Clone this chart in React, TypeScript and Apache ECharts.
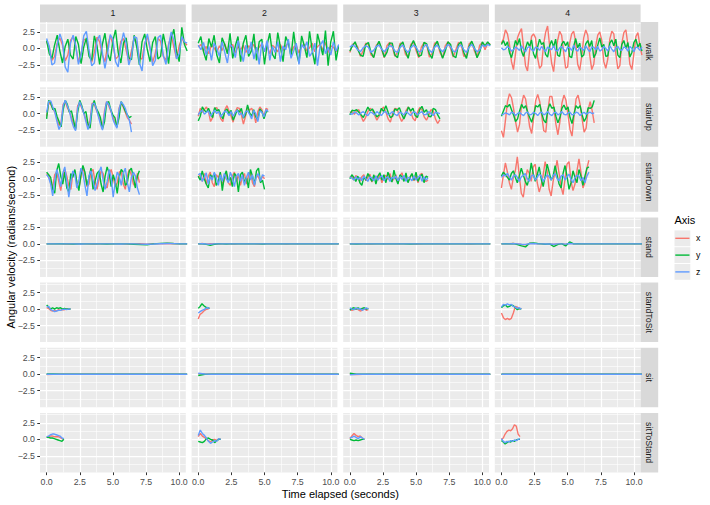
import React, { useEffect, useRef } from "react";
import * as echarts from "echarts";

// ---------- facets, axes, ticks ----------
const FACET_COLS = ["1", "2", "3", "4"];
const FACET_ROWS = ["walk", "stairUp", "stairDown", "stand", "standToSit", "sit", "sitToStand"];
const AXIS_NAMES = ["x", "y", "z"];
const AXIS_COLORS = ["#F8766D", "#00BA38", "#619CFF"];
const X_MAJOR = [0, 2.5, 5, 7.5, 10];
const X_MINOR = [1.25, 3.75, 6.25, 8.75];
const Y_MAJOR = [-2.5, 0, 2.5];
const Y_MINOR = [-3.75, -1.25, 1.25, 3.75];
const X_RANGE = [-0.5, 10.5];
const Y_RANGE = [-5, 4];

// ---------- data (seconds span, then x / y / z angular velocity samples) ----------
// walk
const walk1End = 10.6;
const walk1X = [1.0, 0.2, -1.8, -1.2, 0.8, 1.6, 0.5, -1.9, -1.0, 1.2, 1.8, 0.2, -2.0, -0.8, 1.4, 1.2, -0.5, -2.1, -0.6, 1.7, 1.0, -1.0, -2.0, 0.4, 1.9, 0.6, -1.6, -1.2, 1.1, 1.5, -0.3, -2.0, -0.4, 1.6, 0.9, -1.4, -1.6, 0.8, 1.8, 0.0, -2.1, -0.7, 1.5, 1.1, -1.2, -1.8, 0.6, 2.0, 0.2, -1.5, 0.4, 1.6, 0.8, 0.5];
const walk1Y = [1.2, -0.8, -1.5, 0.5, 2.0, -0.4, -2.2, 0.3, 1.4, -1.0, -1.6, 1.8, 0.6, -2.3, 0.2, 1.6, -1.2, -1.8, 1.9, 0.4, -2.4, 0.6, 2.3, -0.8, -1.9, 1.2, 2.8, -0.6, -2.2, 0.8, 1.6, -1.4, -1.7, 2.0, 0.2, -2.5, 1.0, 2.2, -0.2, -2.0, 0.9, 1.8, -1.6, -1.2, 2.2, 0.3, -2.3, 1.4, 2.9, -0.5, -2.0, 3.2, 0.6, -0.4];
const walk1Z = [1.5, 0.3, -2.5, -2.2, 0.6, 2.2, 1.0, -2.8, -3.6, 0.8, 2.0, 0.4, -2.4, -1.0, 1.9, 2.6, -0.3, -2.6, -2.2, 1.2, 2.0, -0.6, -3.0, -0.8, 2.1, 1.4, -2.0, -2.8, 0.5, 2.4, 0.8, -2.5, -1.2, 1.8, 1.6, -2.2, -3.4, 0.6, 2.2, 0.2, -2.6, -1.8, 1.6, 2.0, -1.0, -2.4, 0.4, 2.5, 1.2, -1.6, -0.8, 1.8, 1.0, 0.8];
const walk2End = 10.6;
const walk2X = [0.2, 0.6, -0.4, 0.3, -0.8, 0.5, 0.1, -0.6, 0.4, -0.3, 0.7, -0.5, 0.2, 0.6, -0.7, 0.3, -0.2, 0.5, -0.6, 0.4, 0.0, 0.6, -0.5, 0.2, 0.7, -0.4, 0.3, -0.8, 0.5, 0.1, -0.5, 0.6, -0.3, 0.4, 0.8, -0.6, 0.2, 0.5, -0.7, 0.3, 0.6, -0.4, 0.1, 0.8, -0.5, 0.3, 0.6, -0.2, 0.9, -0.6, 0.4, 0.2, -0.5, 0.3];
const walk2Y = [0.8, 1.8, -0.5, -1.8, 1.5, 0.2, 2.0, -1.0, -2.2, 1.6, 0.6, -0.8, 2.3, -1.5, 0.4, 1.8, -2.0, 0.8, 2.0, -1.2, -0.4, 2.2, -1.8, 1.0, 1.4, -2.4, 0.6, 2.3, -0.9, -1.6, 2.4, 0.2, -2.0, 1.8, 0.8, -1.2, 2.5, -0.6, -2.2, 1.9, 0.4, -1.4, 2.6, -0.3, -2.4, 2.2, 0.6, -1.0, 2.7, -2.6, 1.0, 2.6, -1.8, 0.5];
const walk2Z = [0.5, -0.2, 0.9, -1.0, 0.3, -1.8, 0.8, 0.0, -1.2, 1.0, -0.6, -2.2, 0.6, 0.2, -1.4, 1.2, -0.4, -2.0, 0.5, -0.8, 1.0, -1.6, 0.2, -2.4, 0.9, -0.5, 1.2, -1.8, 0.3, -0.6, 1.0, -2.0, 0.4, -0.2, 1.4, -1.5, -0.4, 0.8, -2.4, 0.6, 0.0, 1.0, -1.2, -0.6, 0.8, -2.6, 0.4, 1.2, -0.8, 0.2, -1.0, 1.0, -0.4, 0.6];
const walk3End = 10.6;
const walk3X = [-0.6, 0.6, 0.8, 0.2, -1.2, -0.4, 0.8, 0.6, -1.0, -1.3, 0.5, 0.9, -0.2, -1.4, 0.4, 0.9, 0.3, -1.2, -0.6, 0.8, 0.7, -0.9, -1.3, 0.6, 1.0, -0.3, -1.4, 0.2, 0.9, 0.5, -1.3, -0.8, 0.8, 0.9, -0.6, -1.4, 0.4, 1.0, 0.0, -1.3, -0.2, 0.9, 0.6, -1.2, -1.0, 0.7, 1.0, -0.4, -1.3, 0.5, 0.9, -0.2, 0.8, 0.6];
const walk3Y = [-0.4, 0.4, 1.0, -0.2, -1.0, -1.2, 0.6, 0.9, -0.6, -1.4, 0.2, 1.1, 0.0, -1.3, -0.6, 0.8, 0.8, -1.0, -1.4, 0.5, 1.0, -0.4, -1.5, 0.3, 1.2, 0.2, -1.2, -1.0, 0.9, 0.7, -0.8, -1.5, 0.4, 1.1, -0.2, -1.5, -0.4, 1.0, 0.6, -1.1, -1.4, 0.6, 1.0, -0.6, -1.5, 0.3, 1.1, 0.1, -1.4, -0.5, 1.0, 0.4, 1.0, 0.5];
const walk3Z = [0.2, 0.5, 0.3, -0.2, -0.5, 0.1, 0.4, 0.2, -0.6, -0.3, 0.3, 0.5, -0.1, -0.5, 0.0, 0.4, 0.3, -0.4, -0.6, 0.2, 0.5, -0.2, -0.6, 0.1, 0.5, 0.2, -0.5, -0.4, 0.3, 0.6, -0.3, -0.6, 0.2, 0.5, -0.1, -0.5, 0.0, 0.6, 0.3, -0.4, -0.5, 0.3, 0.5, -0.2, -0.6, 0.2, 0.6, 0.0, -0.5, -0.2, 0.5, 0.3, 0.6, 0.4];
const walk4End = 10.6;
const walk4X = [0.8, 1.4, 2.8, 2.2, 0.6, -2.0, -3.2, -0.8, 1.6, 2.4, 3.0, 0.2, -2.6, -3.4, -0.4, 1.8, 2.2, 1.6, -1.4, -3.0, -2.6, 0.6, 2.4, 3.4, 0.4, -2.2, -3.5, -0.6, 1.2, 2.6, 2.0, -0.6, -3.0, -2.8, 0.8, 2.2, 2.6, 1.0, -2.4, -3.3, -1.2, 1.6, 2.8, 2.0, -1.0, -3.2, -2.4, 0.4, 2.0, 2.5, 1.2, -2.0, -3.0, -1.6, 1.4, 2.6, 2.2, -0.8, -3.1, -2.6, 0.8, 2.4, 2.8, 0.6, -2.4, -3.2, -0.8, 1.8, 2.4, 0.4, -1.0];
const walk4Y = [0.6, 1.2, 0.4, 1.0, -0.6, -1.4, -0.2, 1.2, 0.5, 1.5, -0.4, -1.2, 0.0, 1.0, 0.3, 1.3, -0.8, -1.5, 0.2, 1.4, 0.6, 0.9, -0.9, -1.3, 0.4, 1.2, 0.2, 1.4, -1.0, -1.2, 0.6, 1.1, 0.4, 1.0, -1.2, -1.4, 0.3, 1.5, 0.1, 0.8, -1.3, -1.0, 0.7, 1.2, 0.3, 1.2, -1.4, -0.8, 0.5, 1.6, 0.2, 0.6, -1.2, -1.1, 0.8, 1.3, 0.4, 1.4, -1.0, -1.4, 0.6, 1.2, 0.0, 0.9, -1.3, -0.6, 0.9, 1.4, 0.2, 0.8, -0.4];
const walk4Z = [0.1, -0.2, -0.1, 0.3, 0.1, -0.4, -0.2, 0.2, 0.0, -0.3, 0.4, -0.1, -0.5, 0.1, 0.3, -0.2, -0.4, 0.2, 0.1, -0.3, 0.3, -0.1, -0.5, 0.2, 0.0, -0.2, 0.4, -0.3, -0.4, 0.1, 0.3, -0.1, -0.5, 0.2, 0.1, -0.3, 0.5, -0.2, -0.4, 0.2, 0.0, -0.3, 0.4, -0.1, -0.5, 0.2, 0.2, -0.2, 0.3, -0.4, -0.2, 0.3, 0.0, -0.4, 0.4, -0.1, -0.5, 0.1, 0.3, -0.2, -0.3, 0.2, 0.1, -0.4, 0.3, 0.0, -0.5, 0.2, 0.1, -0.3, 0.2];

// stairUp
const stairUp1End = 6.4;
const stairUp1X = [-0.4, 1.6, 1.4, 0.8, 0.2, -0.8, -1.8, -1.4, 1.4, 1.8, 0.9, 0.3, -0.6, -1.6, -2.2, 1.2, 1.6, 0.8, 0.1, -0.9, -2.0, -1.0, 1.6, 1.4, 0.6, -0.2, -1.2, -2.1, 0.4, 1.8, 1.2, 0.4, -0.4, -1.4, -2.0, 0.8, 1.6, 1.0, 0.2, -0.6, -1.0, -1.6];
const stairUp1Y = [-0.8, 2.0, 1.6, 0.6, 0.8, -0.4, -1.2, -2.0, 0.6, 2.0, 1.4, 0.2, 0.4, -1.0, -2.4, 0.2, 2.0, 1.2, 0.0, 0.3, -1.6, -2.2, 0.8, 2.0, 0.8, 0.2, -0.6, -2.3, -1.2, 1.6, 1.8, 0.6, -0.2, -0.6, -2.0, -0.6, 1.8, 1.2, 0.4, -0.2, -0.6, -0.4];
const stairUp1Z = [0.2, 1.8, 1.9, 1.0, 0.2, -1.2, -2.4, -1.6, 1.2, 2.0, 1.2, 0.4, -1.0, -2.0, -2.6, 0.8, 1.8, 1.0, 0.0, -1.2, -2.4, -1.4, 1.4, 1.6, 0.8, -0.4, -1.6, -2.5, 0.0, 1.8, 1.4, 0.6, -0.8, -1.6, -2.2, 0.6, 1.8, 1.4, 0.8, -0.2, -1.0, -2.8];
const stairUp2End = 5.27;
const stairUp2X = [-0.4, 0.8, 0.2, 0.6, 1.0, 0.3, -1.2, -0.6, 0.8, 0.9, 0.2, -0.8, -1.2, 0.6, 1.2, 0.4, -0.4, -1.3, 0.2, 0.9, 0.8, -0.2, -1.6, -0.4, 1.0, 0.5, 0.8, 0.2, -1.4, 0.3, 1.0, 0.6, -0.5, 0.8, 0.6];
const stairUp2Y = [-1.1, -0.4, 1.0, 0.5, 0.2, 0.8, 0.0, -0.6, 0.9, 0.4, 0.6, -0.2, -0.8, 0.4, 0.7, 0.0, 0.5, -1.0, -0.3, 0.6, 0.2, 0.8, -0.7, -0.2, 1.3, 0.1, -0.4, 0.6, -0.5, -0.9, 0.7, 0.3, -0.8, 0.2, 0.4];
const stairUp2Z = [-0.2, 0.3, 0.5, -0.1, 0.2, 0.4, -0.4, 0.1, 0.5, 0.0, 0.3, -0.5, 0.0, 0.4, 0.2, -0.3, 0.3, -0.4, 0.2, 0.5, -0.2, 0.1, -0.6, 0.3, 0.4, -0.1, -0.8, 0.5, 0.0, -1.2, 0.4, 0.2, -0.5, 0.6, 0.3];
const stairUp3End = 6.8;
const stairUp3X = [0.2, 0.3, -0.1, 0.4, 0.6, -0.4, -1.2, -0.6, 0.3, 0.8, 0.5, -0.2, -1.0, -0.4, 0.6, 1.0, 0.2, -0.8, -1.3, 0.0, 0.8, 0.7, -0.4, -1.2, -0.6, 0.5, 1.0, 0.3, -0.7, -1.1, 0.2, 0.9, 0.6, -0.5, -1.0, -0.3, 0.6, 0.4, -0.8, -1.5, -0.9];
const stairUp3Y = [-0.2, 0.5, 0.4, 0.6, 0.2, -0.2, -0.6, 0.2, 1.0, 0.4, 0.7, 0.1, -0.5, -0.2, 0.8, 0.3, 1.2, 0.2, -0.6, -0.4, 0.7, 0.5, 0.9, -0.1, -0.8, 0.0, 1.0, 0.4, 0.8, -0.3, -0.6, 0.6, 1.1, 0.2, 0.6, -0.4, -0.5, 0.8, 0.6, -0.2, -0.8];
const stairUp3Z = [0.0, -0.1, 0.2, 0.1, -0.2, 0.1, 0.3, -0.1, -0.3, 0.2, 0.1, -0.2, 0.3, 0.0, -0.3, 0.2, 0.3, -0.2, 0.0, 0.3, -0.1, -0.3, 0.2, 0.1, -0.2, 0.3, 0.0, -0.3, 0.2, 0.2, -0.2, 0.1, 0.3, -0.2, -0.1, 0.3, 0.0, -0.3, 0.2, 0.1, 0.0];
const stairUp4End = 7.0;
const stairUp4X = [-2.6, -3.6, -1.0, 1.8, 3.0, 2.4, 0.8, -1.2, -2.8, -1.6, 1.4, 2.8, 2.2, 0.2, -2.0, -3.0, -0.6, 2.0, 2.9, 1.8, -0.4, -2.6, -2.8, 0.4, 2.6, 2.6, 0.8, -1.6, -3.2, -1.2, 1.6, 2.8, 2.0, -0.2, -2.4, -3.4, -0.4, 2.2, 2.8, 1.4, -0.8, -2.8, -2.2, 0.6, 1.8, 0.4, -1.4];
const stairUp4Y = [-0.4, 0.4, 1.2, 1.0, 1.4, 0.6, -0.2, -1.2, -0.8, 0.4, 1.4, 0.8, 1.2, 0.2, -0.6, -1.3, -0.2, 1.2, 1.0, 1.4, 0.0, -1.0, -1.4, 0.6, 1.5, 0.8, 1.0, -0.4, -1.4, -0.6, 0.8, 1.3, 0.6, 1.0, -0.6, -1.5, 0.0, 1.2, 0.8, 1.2, -0.2, -1.2, -0.6, 0.9, 0.8, 1.0, 2.0];
const stairUp4Z = [-0.2, -0.1, 0.1, 0.0, -0.2, 0.2, 0.1, -0.3, 0.0, 0.2, -0.1, -0.3, 0.1, 0.2, -0.2, -0.1, 0.2, 0.0, -0.3, 0.1, 0.2, -0.2, 0.0, 0.3, -0.1, -0.3, 0.1, 0.2, -0.2, 0.0, 0.3, -0.1, -0.2, 0.1, 0.2, -0.2, -0.1, 0.2, 0.1, -0.3, 0.0, 0.2, -0.1, 0.1, 0.2, 0.0, 0.1];

// stairDown
const stairDown1End = 7.0;
const stairDown1X = [0.8, 0.4, -0.6, -1.2, 0.6, 1.0, -0.4, -1.8, 0.2, 1.4, 0.4, -1.0, -1.6, 0.8, 1.2, -0.6, -1.4, 0.2, 1.6, 0.6, -1.2, -0.8, 1.0, 1.4, -0.4, -1.6, 0.0, 1.2, 0.8, -1.0, -1.4, 0.6, 1.4, 0.2, -1.2, -0.6, 1.0, 1.2, -0.8, -1.6, 0.4, 1.4, 0.6, -0.8, -1.2, 0.8, -0.6];
const stairDown1Y = [1.0, 0.6, 0.2, -1.6, -2.2, 1.2, 2.3, 0.4, -0.8, 1.0, -1.4, -2.0, 0.8, 0.2, 1.4, -0.6, -1.8, 0.6, 2.0, 1.0, -1.0, 0.2, 1.6, -1.6, -0.4, 0.8, 1.2, -0.8, -2.0, 0.4, 1.8, 0.8, -1.2, 0.6, -0.4, -2.2, 0.2, 1.4, 1.0, -1.0, -0.6, 1.2, 1.6, 0.2, -1.4, 0.4, 1.2];
const stairDown1Z = [0.6, 0.2, -0.8, -2.6, -0.4, 1.4, 0.4, -1.2, 0.8, 1.8, -0.4, -2.8, -0.6, 1.2, 0.6, -1.4, -0.2, 1.6, 0.8, -1.0, -2.6, 0.4, 1.2, -0.2, -1.8, -0.8, 1.0, 1.8, -0.2, -1.6, -0.4, 1.4, 0.2, -2.8, -0.6, 1.0, 0.4, -1.0, 0.8, 1.6, -0.6, -2.0, 0.2, 1.0, 0.4, -1.4, -2.4];
const stairDown2End = 5.0;
const stairDown2X = [0.2, 0.6, -0.4, 0.8, -0.8, 0.4, 1.0, -0.6, -1.2, 0.6, 0.2, 0.9, -0.9, -0.2, 0.8, -0.6, -1.0, 0.4, 1.0, -0.4, 0.6, -1.0, 0.2, 0.8, -0.8, 0.4, 1.0, -0.6, -1.2, 0.6, 0.2, -0.4, 0.4, 0.0];
const stairDown2Y = [0.4, -0.2, 1.2, 0.0, -0.8, -1.4, 0.6, 0.2, 0.8, -1.0, -0.4, 1.0, -1.8, 0.4, 1.2, -0.4, 0.2, -1.2, 0.8, 0.4, -2.0, 0.6, 1.0, -0.6, 0.2, -1.4, 1.4, 0.4, -0.8, 1.2, 1.6, -0.6, -0.2, -1.6];
const stairDown2Z = [0.6, 0.8, -0.4, 0.2, 0.9, -0.8, 0.4, -0.2, 1.0, 0.2, -1.0, 0.6, -0.4, 0.8, 0.0, -0.6, 1.0, 0.2, -1.2, 0.4, 0.8, -0.4, 0.6, -1.0, 0.2, 1.0, -0.2, 0.6, -1.0, 0.4, 0.8, -0.4, 0.6, 0.4];
const stairDown3End = 5.9;
const stairDown3X = [0.2, 0.4, -0.2, 0.5, 0.1, -0.4, 0.3, 0.6, -0.3, 0.2, 0.7, -0.5, 0.1, 0.4, -0.2, 0.6, -0.6, 0.3, 0.5, -0.1, 0.8, -0.4, 0.0, 0.6, -0.6, 0.4, 0.9, -0.2, 0.5, -0.5, 0.2, 0.7, -0.3, 0.4, -0.6, 0.6, 0.8, -0.2, -0.4, -0.2];
const stairDown3Y = [0.0, 0.6, 0.2, -0.4, 0.4, -0.6, -1.0, 0.3, -0.2, 0.8, 0.2, -0.4, 0.6, -0.8, 0.4, 0.9, -0.2, 0.6, -0.6, 1.0, 0.2, -0.5, 1.3, 0.0, -0.8, 0.6, 0.3, -0.4, 0.9, -0.6, 0.2, 0.8, -0.2, 1.0, -0.4, 0.3, 0.7, -0.6, 0.4, 0.2];
const stairDown3Z = [0.3, 0.1, -0.2, 0.3, -0.1, 0.2, -0.3, 0.4, 0.0, -0.4, 0.3, 0.1, -0.3, 0.4, -0.2, 0.2, 0.5, -0.3, 0.1, 0.3, -0.4, 0.2, 0.0, 0.4, -0.3, 0.3, -0.1, 0.5, -0.4, 0.2, 0.1, -0.3, 0.4, -0.2, 0.2, 0.5, -0.4, 0.3, -0.2, 0.1];
const stairDown4End = 6.6;
const stairDown4X = [-1.4, 0.6, 2.4, 1.0, -0.6, -1.6, 0.2, 1.2, 3.3, 0.4, -2.2, -2.8, -0.6, 1.4, 0.8, -0.4, 1.8, 2.2, -0.6, -2.0, -1.0, 0.6, 2.6, 1.2, -1.6, -2.6, -0.4, 1.0, 2.8, 0.8, -1.2, -2.4, 0.0, 2.2, 2.6, -0.4, -1.8, -0.8, 1.2, 3.0, 1.0, -1.4, -0.6, 1.6, 2.8];
const stairDown4Y = [0.4, 1.0, 0.6, 0.2, -0.2, 0.8, 1.2, 0.2, -0.6, 0.4, 1.6, 0.6, -0.4, -1.0, 0.2, 2.4, 0.8, -0.4, 0.6, 1.8, 0.0, -1.2, 0.4, 2.2, 1.0, -0.2, 0.4, 2.0, 0.6, -0.8, -1.4, 0.8, 2.0, 0.4, -1.6, -0.6, 1.2, 0.2, -0.6, 1.4, 0.4, -1.0, 0.4, 1.6, 1.8];
const stairDown4Z = [0.2, 0.6, 0.4, 0.8, 0.3, -0.2, 0.4, 0.6, 0.2, -0.4, 0.3, 0.5, 0.8, 0.0, -0.4, 0.4, 0.6, -0.2, 0.2, 0.7, 0.4, -0.4, 0.1, 0.6, 0.3, -0.2, 0.5, 0.8, 0.0, -0.3, 0.4, 0.6, -0.2, 0.3, 0.7, -0.1, -0.6, 0.2, 0.5, 0.4, -0.3, 0.2, -0.6, 0.4, 1.0];

// stand
const stand1End = 10.6;
const stand1X = [0.0, 0.02, 0.0, -0.02, 0.0, 0.01, 0.0, -0.01, 0.0, 0.02, 0.0, 0.0, -0.02, 0.0, 0.03, -0.05, 0.02, 0.0, 0.05, 0.02, 0.0, 0.0];
const stand1Y = [0.0, 0.0, 0.02, 0.0, -0.02, 0.0, 0.01, 0.0, 0.0, -0.02, 0.0, 0.0, 0.0, -0.05, -0.1, -0.12, 0.0, 0.08, 0.12, 0.05, 0.0, 0.0];
const stand1Z = [0.0, 0.0, 0.0, 0.01, 0.0, -0.01, 0.0, 0.0, 0.01, 0.0, 0.0, -0.01, 0.0, 0.0, -0.04, -0.06, -0.02, 0.03, 0.06, 0.04, 0.01, 0.0];
const stand2End = 10.6;
const stand2X = [0.0, 0.05, -0.04, 0.02, 0.0, -0.02, 0.0, 0.01, 0.0, -0.02, 0.0, 0.0, 0.01, 0.0, 0.0, -0.01, 0.0, 0.0, 0.0, 0.01, 0.0, 0.0, -0.01, 0.0, 0.0, 0.0, 0.01, 0.0, 0.0, 0.0, 0.0, 0.0, 0.0, 0.0, 0.0, 0.0];
const stand2Y = [0.0, 0.02, -0.08, -0.2, -0.06, 0.03, 0.0, -0.02, 0.0, 0.0, 0.01, 0.0, 0.0, 0.0, 0.0, 0.0, -0.01, 0.0, 0.0, 0.0, 0.0, 0.01, 0.0, 0.0, 0.0, 0.0, 0.0, 0.0, 0.0, 0.0, 0.0, 0.0, 0.0, 0.0, 0.0, 0.0];
const stand2Z = [0.0, 0.03, -0.02, -0.05, 0.0, 0.01, 0.0, 0.0, 0.0, 0.0, 0.0, 0.0, 0.0, 0.0, 0.0, 0.0, 0.0, 0.0, 0.0, 0.0, 0.0, 0.0, 0.0, 0.0, 0.0, 0.0, 0.0, 0.0, 0.0, 0.0, 0.0, 0.0, 0.0, 0.0, 0.0, 0.0];
const stand3End = 10.6;
const stand3X = [0.0, 0.02, 0.0, -0.01, 0.01, 0.0, 0.0, 0.01, 0.0, 0.0, -0.01, 0.0, 0.0, 0.01, 0.0, 0.0, 0.0, 0.0, -0.01, 0.0, 0.0, 0.0];
const stand3Y = [0.0, -0.01, 0.01, 0.0, 0.0, 0.01, 0.0, 0.0, 0.0, -0.01, 0.0, 0.0, 0.01, 0.0, 0.0, 0.0, 0.0, 0.01, 0.0, 0.0, 0.0, 0.0];
const stand3Z = [0.0, 0.0, 0.0, 0.0, 0.0, 0.0, 0.0, 0.0, 0.0, 0.0, 0.0, 0.0, 0.0, 0.0, 0.0, 0.0, 0.0, 0.0, 0.0, 0.0, 0.0, 0.0];
const stand4End = 10.6;
const stand4X = [0.0, 0.03, 0.02, 0.05, 0.0, -0.1, -0.15, 0.05, 0.08, 0.0, 0.02, -0.03, 0.0, -0.1, 0.0, 0.02, -0.08, 0.1, 0.0, 0.02, 0.0, 0.0, 0.01, 0.0, 0.0, 0.0, 0.0, 0.01, 0.0, 0.0, 0.0, 0.0, 0.0, 0.0, 0.0, 0.0];
const stand4Y = [0.0, 0.02, 0.0, 0.05, -0.1, -0.3, -0.45, 0.1, 0.15, 0.05, 0.0, -0.05, 0.0, -0.4, -0.1, 0.05, -0.3, 0.3, 0.0, 0.02, 0.0, 0.0, 0.0, 0.01, 0.0, 0.0, 0.0, 0.0, 0.0, 0.0, 0.0, 0.0, 0.0, 0.0, 0.0, 0.0];
const stand4Z = [0.0, 0.0, 0.0, 0.02, 0.0, -0.05, -0.08, 0.03, 0.05, 0.0, 0.0, -0.02, 0.0, -0.06, 0.0, 0.0, -0.04, 0.06, 0.0, 0.0, 0.0, 0.0, 0.0, 0.0, 0.0, 0.0, 0.0, 0.0, 0.0, 0.0, 0.0, 0.0, 0.0, 0.0, 0.0, 0.0];

// standToSit
const standToSit1End = 1.8;
const standToSit1X = [0.2, 0.1, -0.2, -0.3, -0.2, -0.3, -0.1, -0.2, -0.1, -0.1, 0.0, 0.0, 0.0];
const standToSit1Y = [0.6, 0.3, 0.0, 0.2, 0.0, 0.2, 0.1, 0.2, 0.0, 0.1, 0.0, 0.0, 0.0];
const standToSit1Z = [0.3, 0.4, -0.1, -0.2, -0.4, -0.3, -0.2, -0.2, -0.1, 0.0, -0.1, 0.0, 0.0];
const standToSit2End = 0.85;
const standToSit2X = [-1.5, -0.8, -0.6, -0.3, -0.1, 0.0, 0.1];
const standToSit2Y = [0.1, 0.4, 0.8, 0.5, 0.3, 0.2, 0.1];
const standToSit2Z = [-0.6, -0.4, -0.2, -0.1, 0.1, 0.2, 0.1];
const standToSit3End = 1.4;
const standToSit3X = [0.0, -0.2, -0.1, 0.1, -0.1, -0.3, -0.2, 0.1, -0.2, -0.1];
const standToSit3Y = [-0.2, 0.1, 0.2, 0.0, 0.2, 0.0, 0.1, 0.2, 0.0, 0.1];
const standToSit3Z = [0.2, 0.0, -0.1, 0.2, 0.0, 0.1, -0.2, 0.0, 0.2, 0.0];
const standToSit4End = 1.5;
const standToSit4X = [-0.6, -1.3, -1.6, -1.4, -1.6, -1.4, -0.6, 0.4, 0.3, 0.0, 0.1];
const standToSit4Y = [0.2, 0.5, 0.6, 0.3, 0.4, 0.6, 0.5, 0.2, -0.1, 0.1, 0.0];
const standToSit4Z = [0.3, 0.7, 0.6, 0.8, 0.6, 0.7, 0.4, 0.3, 0.1, 0.2, 0.0];

// sit
const sit1End = 10.6;
const sit1X = [-0.05, -0.03, 0.0, 0.01, 0.0, 0.0, 0.01, 0.0, 0.0, 0.0, -0.01, 0.0, 0.0, 0.0, 0.0, 0.01, 0.0, 0.0, 0.0, 0.0, 0.0, 0.0];
const sit1Y = [0.02, 0.03, 0.0, 0.0, 0.01, 0.0, 0.0, 0.0, 0.0, 0.01, 0.0, 0.0, 0.0, 0.0, 0.0, 0.0, 0.0, 0.01, 0.0, 0.0, 0.0, 0.0];
const sit1Z = [0.0, 0.01, 0.0, 0.0, 0.0, 0.0, 0.0, 0.01, 0.0, 0.0, 0.0, 0.0, 0.0, 0.0, 0.0, 0.0, 0.0, 0.0, 0.0, 0.0, 0.0, 0.0];
const sit2End = 10.6;
const sit2X = [0.05, 0.02, 0.0, -0.01, 0.0, 0.0, 0.01, 0.0, 0.0, 0.0, 0.0, 0.0, 0.01, 0.0, 0.0, 0.0, 0.0, 0.0, 0.0, 0.0, 0.0, 0.0];
const sit2Y = [-0.2, -0.02, 0.0, 0.01, 0.0, 0.0, 0.0, 0.0, 0.0, 0.0, 0.0, 0.01, 0.0, 0.0, 0.0, 0.0, 0.0, 0.0, 0.0, 0.0, 0.0, 0.0];
const sit2Z = [0.15, 0.02, 0.0, 0.0, 0.0, 0.0, 0.0, 0.0, 0.0, 0.0, 0.0, 0.0, 0.0, 0.0, 0.0, 0.0, 0.0, 0.0, 0.0, 0.0, 0.0, 0.0];
const sit3End = 10.6;
const sit3X = [0.0, -0.05, -0.03, 0.0, -0.02, 0.0, 0.0, 0.0, 0.0, 0.0, 0.0, 0.0, 0.0, 0.0, 0.0, 0.0, 0.0, 0.0, 0.0, 0.0, 0.0, 0.0];
const sit3Y = [0.15, 0.0, 0.0, 0.0, 0.0, 0.0, 0.0, 0.0, 0.0, 0.0, 0.0, 0.0, 0.0, 0.0, 0.0, 0.0, 0.0, 0.0, 0.0, 0.0, 0.0, 0.0];
const sit3Z = [-0.1, 0.0, 0.0, 0.0, 0.0, 0.0, 0.0, 0.0, 0.0, 0.0, 0.0, 0.0, 0.0, 0.0, 0.0, 0.0, 0.0, 0.0, 0.0, 0.0, 0.0, 0.0];
const sit4End = 10.6;
const sit4X = [0.0, 0.0, 0.0, 0.0, 0.0, 0.0, 0.0, 0.0, 0.0, 0.0, 0.0, 0.0, 0.0, 0.0, 0.0, 0.0, 0.0, 0.0, 0.0, 0.0, 0.0, 0.0];
const sit4Y = [0.0, 0.0, 0.0, 0.0, 0.0, 0.0, 0.0, 0.0, 0.0, 0.0, 0.0, 0.0, 0.0, 0.0, 0.0, 0.0, 0.0, 0.0, 0.0, 0.0, 0.0, 0.0];
const sit4Z = [0.0, 0.0, 0.0, 0.0, 0.0, 0.0, 0.0, 0.0, 0.0, 0.0, 0.0, 0.0, 0.0, 0.0, 0.0, 0.0, 0.0, 0.0, 0.0, 0.0, 0.0, 0.0];

// sitToStand
const sitToStand1End = 1.3;
const sitToStand1X = [0.3, 0.4, 0.5, 0.5, 0.4, 0.4, 0.4, 0.3, 0.1, 0.0];
const sitToStand1Y = [0.3, 0.3, 0.2, 0.2, 0.1, 0.0, -0.1, -0.2, -0.3, 0.0];
const sitToStand1Z = [0.4, 0.5, 0.7, 0.8, 0.8, 0.7, 0.6, 0.5, 0.2, 0.1];
const sitToStand2End = 1.7;
const sitToStand2X = [0.4, 0.9, 0.5, 0.3, 0.1, -0.2, -0.4, -0.1, 0.0, -0.2, 0.1, 0.0];
const sitToStand2Y = [-0.3, -0.4, -0.5, -0.3, 0.1, 0.2, 0.0, -0.1, -0.5, -0.2, 0.0, 0.0];
const sitToStand2Z = [0.6, 1.4, 0.9, 0.6, 0.2, -0.3, -0.6, -0.4, -0.2, -0.3, 0.1, 0.0];
const sitToStand3End = 1.1;
const sitToStand3X = [0.1, 0.5, 0.9, 0.6, 0.4, 0.5, 0.2, 0.0];
const sitToStand3Y = [0.0, -0.1, -0.2, -0.1, -0.2, -0.1, 0.0, 0.0];
const sitToStand3Z = [0.2, 0.3, 0.5, 0.3, 0.1, 0.4, 0.2, 0.0];
const sitToStand4End = 1.4;
const sitToStand4X = [0.0, 0.2, 0.8, 1.2, 1.4, 1.3, 1.6, 2.2, 2.0, 0.8, 0.4];
const sitToStand4Y = [-0.2, -0.4, -0.7, -0.5, -0.3, -0.4, -0.2, -0.3, -0.1, 0.0, 0.0];
const sitToStand4Z = [0.1, -0.3, -0.5, -0.3, -0.4, -0.2, -0.3, -0.1, -0.2, 0.0, 0.1];

type Panel = [number, number[], number[], number[]];
const PANELS: Panel[][] = [
  [[walk1End, walk1X, walk1Y, walk1Z], [walk2End, walk2X, walk2Y, walk2Z], [walk3End, walk3X, walk3Y, walk3Z], [walk4End, walk4X, walk4Y, walk4Z]],
  [[stairUp1End, stairUp1X, stairUp1Y, stairUp1Z], [stairUp2End, stairUp2X, stairUp2Y, stairUp2Z], [stairUp3End, stairUp3X, stairUp3Y, stairUp3Z], [stairUp4End, stairUp4X, stairUp4Y, stairUp4Z]],
  [[stairDown1End, stairDown1X, stairDown1Y, stairDown1Z], [stairDown2End, stairDown2X, stairDown2Y, stairDown2Z], [stairDown3End, stairDown3X, stairDown3Y, stairDown3Z], [stairDown4End, stairDown4X, stairDown4Y, stairDown4Z]],
  [[stand1End, stand1X, stand1Y, stand1Z], [stand2End, stand2X, stand2Y, stand2Z], [stand3End, stand3X, stand3Y, stand3Z], [stand4End, stand4X, stand4Y, stand4Z]],
  [[standToSit1End, standToSit1X, standToSit1Y, standToSit1Z], [standToSit2End, standToSit2X, standToSit2Y, standToSit2Z], [standToSit3End, standToSit3X, standToSit3Y, standToSit3Z], [standToSit4End, standToSit4X, standToSit4Y, standToSit4Z]],
  [[sit1End, sit1X, sit1Y, sit1Z], [sit2End, sit2X, sit2Y, sit2Z], [sit3End, sit3X, sit3Y, sit3Z], [sit4End, sit4X, sit4Y, sit4Z]],
  [[sitToStand1End, sitToStand1X, sitToStand1Y, sitToStand1Z], [sitToStand2End, sitToStand2X, sitToStand2Y, sitToStand2Z], [sitToStand3End, sitToStand3X, sitToStand3Y, sitToStand3Z], [sitToStand4End, sitToStand4X, sitToStand4Y, sitToStand4Z]],
];

// ---------- layout ----------
const FONT = "'Liberation Sans', Arial, Helvetica, sans-serif";
const PANEL_LEFT = 40;
const PANEL_TOP = 22;
const PANEL_W = 145.8;
const PANEL_H = 59.5;
const STEP_X = 151.6;
const STEP_Y = 65.15;
const STRIP = 17.6;

const fmt = (v: number) => {
  const s = Math.abs(v).toFixed(1);
  return v < 0 ? "\u2212" + s : s;
};

function buildOption() {
  const grid: any[] = [];
  const xAxis: any[] = [];
  const yAxis: any[] = [];
  const series: any[] = [];
  const graphic: any[] = [];
  const nRows = FACET_ROWS.length;
  const nCols = FACET_COLS.length;

  for (let r = 0; r < nRows; r++) {
    for (let c = 0; c < nCols; c++) {
      const g = r * nCols + c;
      const left = PANEL_LEFT + c * STEP_X;
      const top = PANEL_TOP + r * STEP_Y;
      grid.push({ left, top, width: PANEL_W, height: PANEL_H, show: true, backgroundColor: "#EBEBEB", borderWidth: 0, borderColor: "transparent" });
      const isBottom = r === nRows - 1;
      const isLeft = c === 0;
      xAxis.push({
        type: "value", gridIndex: g, min: X_RANGE[0], max: X_RANGE[1], position: "bottom",
        axisLine: { show: false, onZero: false },
        axisTick: { show: isBottom, customValues: X_MAJOR, length: 2.75, lineStyle: { color: "#333333", width: 1 } },
        axisLabel: { show: isBottom, customValues: X_MAJOR, formatter: fmt, color: "#4D4D4D", fontSize: 8.8, fontFamily: FONT, margin: 5 },
        splitLine: { show: true, lineStyle: { color: "#FFFFFF", width: 1.25 } },
      });
      xAxis.push({
        type: "value", gridIndex: g, min: X_RANGE[0], max: X_RANGE[1], position: "top",
        axisLine: { show: false, onZero: false },
        axisTick: { show: false, customValues: X_MINOR },
        axisLabel: { show: false, customValues: X_MINOR },
        splitLine: { show: true, lineStyle: { color: "#FFFFFF", width: 0.6 } },
      });
      yAxis.push({
        type: "value", gridIndex: g, min: Y_RANGE[0], max: Y_RANGE[1], position: "left",
        axisLine: { show: false, onZero: false },
        axisTick: { show: isLeft, customValues: Y_MAJOR, length: 2.75, lineStyle: { color: "#333333", width: 1 } },
        axisLabel: { show: isLeft, customValues: Y_MAJOR, formatter: fmt, color: "#4D4D4D", fontSize: 8.8, fontFamily: FONT, margin: 5 },
        splitLine: { show: true, lineStyle: { color: "#FFFFFF", width: 1.25 } },
      });
      yAxis.push({
        type: "value", gridIndex: g, min: Y_RANGE[0], max: Y_RANGE[1], position: "right",
        axisLine: { show: false, onZero: false },
        axisTick: { show: false, customValues: Y_MINOR },
        axisLabel: { show: false, customValues: Y_MINOR },
        splitLine: { show: true, lineStyle: { color: "#FFFFFF", width: 0.6 } },
      });

      const [end, ...vals] = PANELS[r][c];
      vals.forEach((arr, k) => {
        const n = arr.length;
        series.push({
          type: "line",
          name: AXIS_NAMES[k],
          xAxisIndex: 2 * g,
          yAxisIndex: 2 * g,
          data: arr.map((v, i) => [(i * end) / (n - 1), v]),
          showSymbol: false,
          symbol: "none",
          clip: true,
          silent: true,
          lineStyle: { color: AXIS_COLORS[k], width: 1.4 },
          itemStyle: { color: AXIS_COLORS[k] },
          z: 2 + k,
        });
      });

      if (c === nCols - 1) {
        graphic.push({ type: "rect", shape: { x: left + PANEL_W, y: top, width: STRIP, height: PANEL_H }, style: { fill: "#D9D9D9" }, silent: true });
        graphic.push({
          type: "text", x: left + PANEL_W + STRIP / 2, y: top + PANEL_H / 2, rotation: -Math.PI / 2,
          style: { text: FACET_ROWS[r], fill: "#1A1A1A", fontSize: 8.8, fontFamily: FONT, align: "center", verticalAlign: "middle" },
          silent: true,
        });
      }
      if (r === 0) {
        graphic.push({ type: "rect", shape: { x: left, y: PANEL_TOP - STRIP, width: PANEL_W, height: STRIP }, style: { fill: "#D9D9D9" }, silent: true });
        graphic.push({
          type: "text", x: left + PANEL_W / 2, y: PANEL_TOP - STRIP / 2,
          style: { text: FACET_COLS[c], fill: "#1A1A1A", fontSize: 8.8, fontFamily: FONT, align: "center", verticalAlign: "middle" },
          silent: true,
        });
      }
    }
  }

  const panelsBottom = PANEL_TOP + (nRows - 1) * STEP_Y + PANEL_H;
  const panelsRight = PANEL_LEFT + (nCols - 1) * STEP_X + PANEL_W;
  graphic.push({
    type: "text", x: (PANEL_LEFT + panelsRight) / 2, y: 493.5,
    style: { text: "Time elapsed (seconds)", fill: "#000000", fontSize: 11, fontFamily: FONT, align: "center", verticalAlign: "middle" },
    silent: true,
  });
  graphic.push({
    type: "text", x: 11, y: (PANEL_TOP + panelsBottom) / 2, rotation: Math.PI / 2,
    style: { text: "Angular velocity (radians/second)", fill: "#000000", fontSize: 11, fontFamily: FONT, align: "center", verticalAlign: "middle" },
    silent: true,
  });
  const legX = 674.5;
  graphic.push({
    type: "text", x: legX, y: 219.5,
    style: { text: "Axis", fill: "#000000", fontSize: 11, fontFamily: FONT, align: "left", verticalAlign: "middle" },
    silent: true,
  });
  AXIS_NAMES.forEach((name, k) => {
    const cy = 238.3 + k * 16.8;
    graphic.push({ type: "rect", shape: { x: legX, y: cy - 7.9, width: 15.8, height: 15.8 }, style: { fill: "#EBEBEB" }, silent: true });
    graphic.push({ type: "line", shape: { x1: legX + 0.8, y1: cy, x2: legX + 15, y2: cy }, style: { stroke: AXIS_COLORS[k], lineWidth: 1.4 }, silent: true });
    graphic.push({
      type: "text", x: legX + 21.5, y: cy,
      style: { text: name, fill: "#000000", fontSize: 8.8, fontFamily: FONT, align: "left", verticalAlign: "middle" },
      silent: true,
    });
  });

  return {
    animation: false,
    backgroundColor: "#FFFFFF",
    grid,
    xAxis,
    yAxis,
    series,
    graphic,
  };
}

export default function App() {
  const ref = useRef<HTMLDivElement>(null);
  useEffect(() => {
    if (!ref.current) return;
    const chart = echarts.init(ref.current, undefined, { renderer: "svg" });
    chart.setOption(buildOption() as any);
    return () => chart.dispose();
  }, []);
  return <div ref={ref} style={{ position: "fixed", left: 0, top: 0, width: 710, height: 505, background: "#fff" }} />;
}
